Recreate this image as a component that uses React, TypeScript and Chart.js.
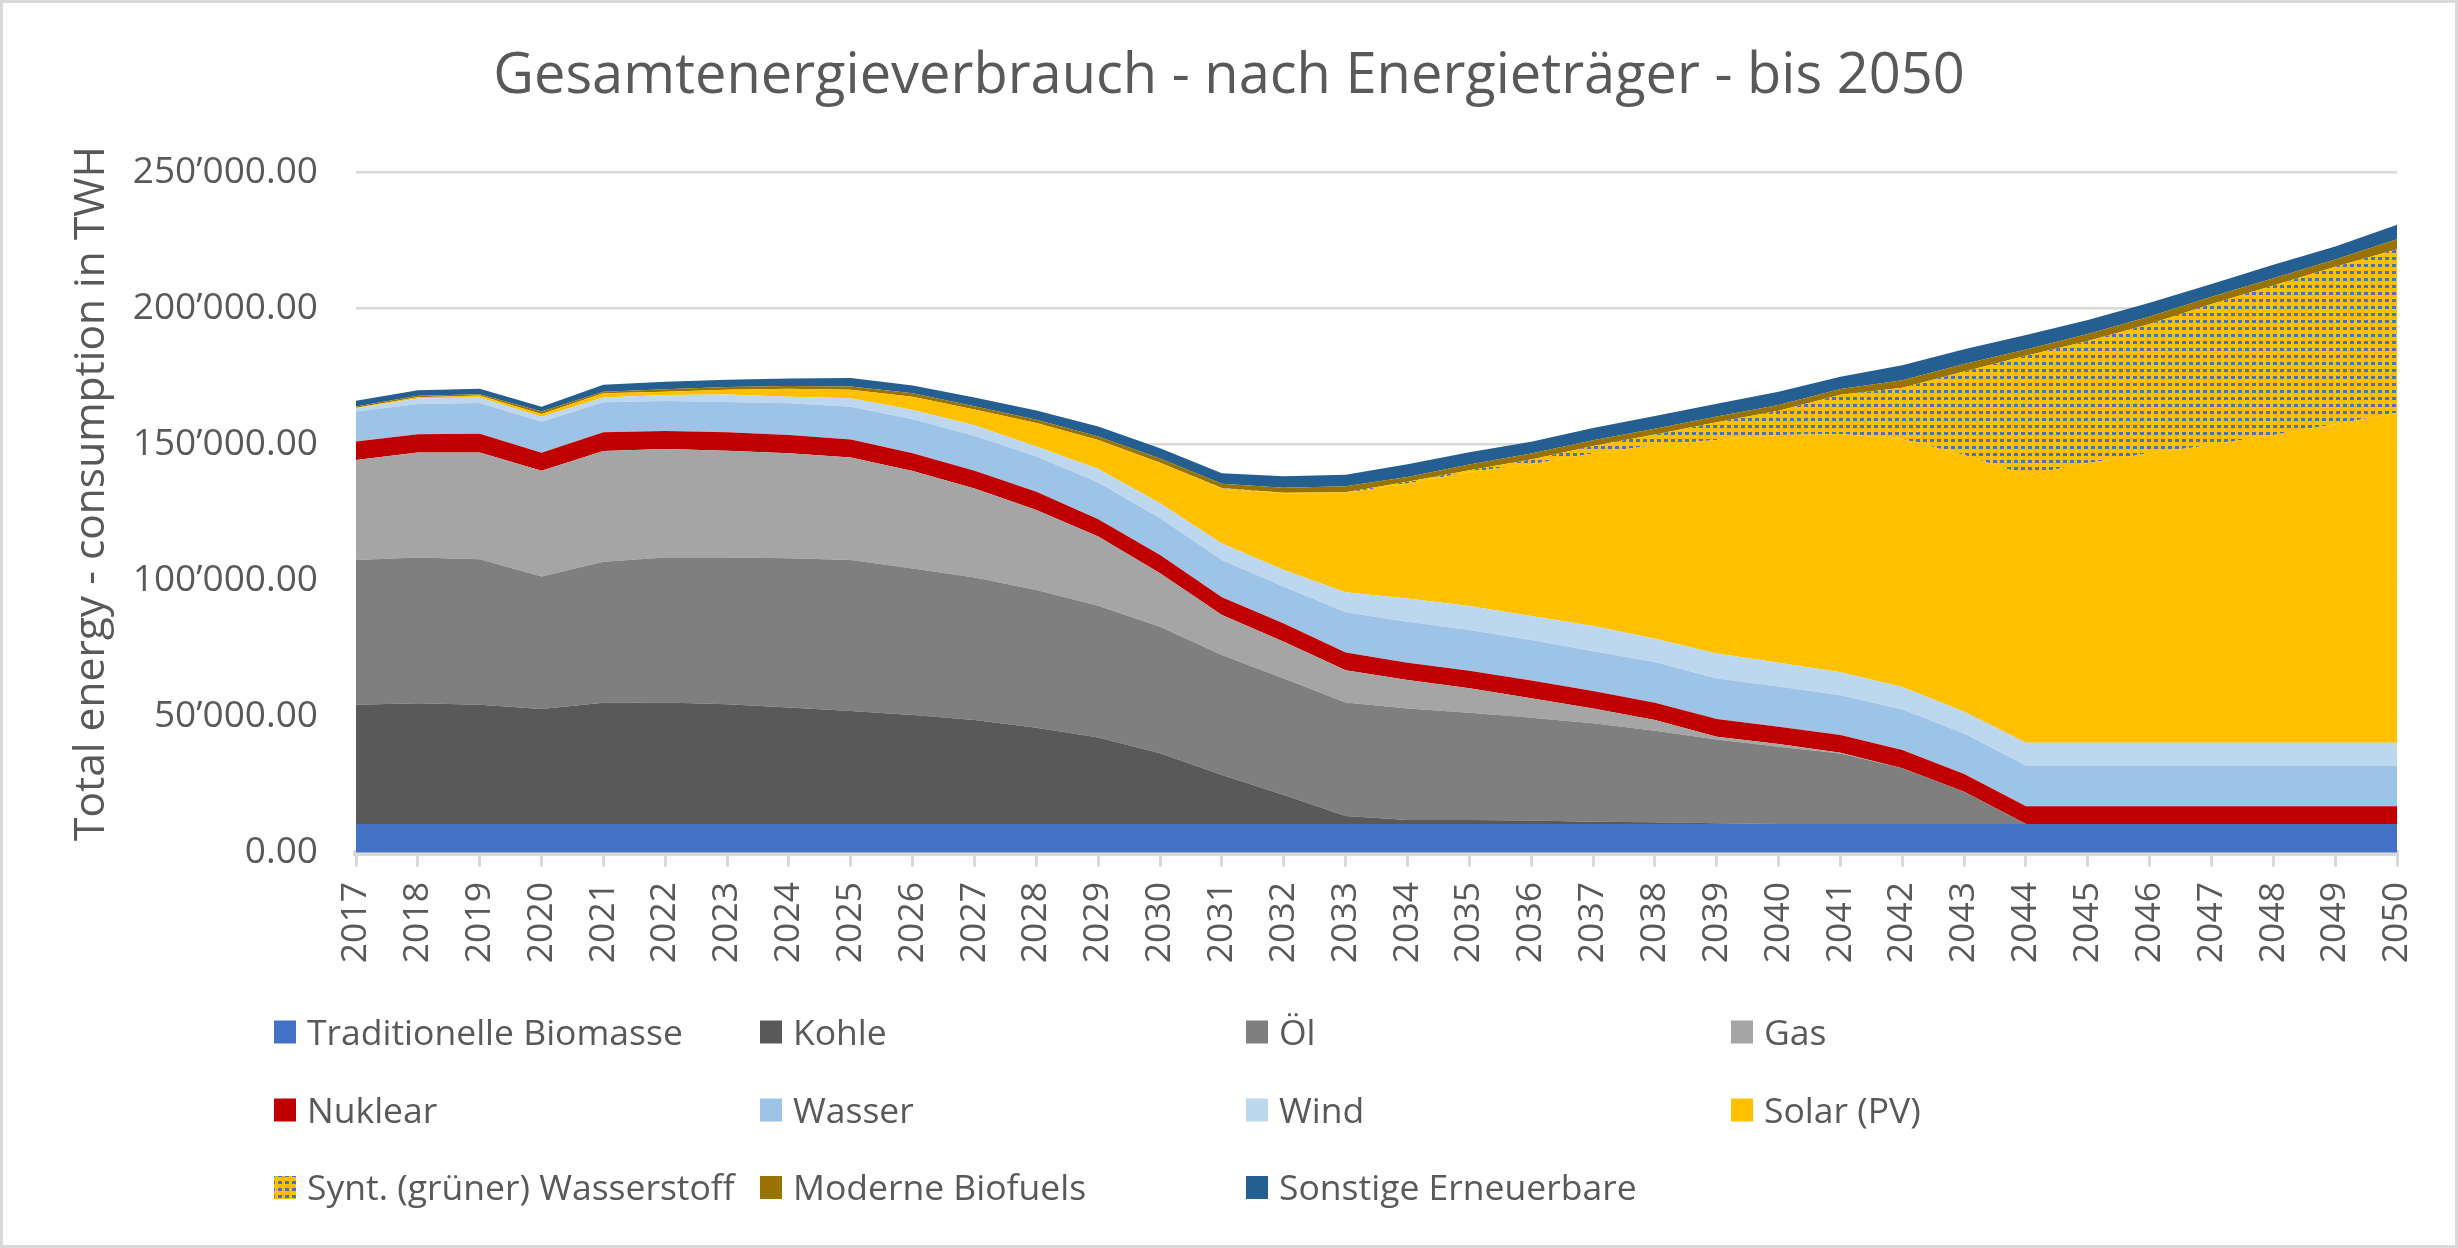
import { useEffect, useRef } from 'react';
import { Chart, registerables } from 'chart.js';

Chart.register(...registerables);

const years = [
  '2017', '2018', '2019', '2020', '2021', '2022', '2023', '2024', '2025', '2026', '2027', '2028',
  '2029', '2030', '2031', '2032', '2033', '2034', '2035', '2036', '2037', '2038', '2039', '2040',
  '2041', '2042', '2043', '2044', '2045', '2046', '2047', '2048', '2049', '2050',
];

// values in TWh
const biomasse = [
  10500, 10500, 10500, 10500, 10500, 10500, 10500, 10500, 10500, 10500, 10500, 10500,
  10500, 10500, 10500, 10500, 10500, 10500, 10500, 10500, 10500, 10500, 10500, 10500,
  10500, 10500, 10500, 10500, 10500, 10500, 10500, 10500, 10500, 10500,
];
const kohle = [
  43800, 44400, 43800, 42300, 44600, 44700, 44000, 42800, 41500, 40100, 38200, 35400,
  31800, 26000, 18000, 10700, 3000, 1500, 1500, 1300, 900, 700, 300, 0,
  0, 0, 0, 0, 0, 0, 0, 0, 0, 0,
];
const oel = [
  53200, 53500, 53500, 48600, 51800, 53200, 53900, 54800, 55500, 53800, 52400, 50600,
  48400, 46500, 44100, 42800, 41700, 41000, 39400, 37800, 36100, 33600, 30800, 28400,
  25900, 20500, 11900, 0, 0, 0, 0, 0, 0, 0,
];
const gas = [
  36700, 38600, 39200, 38900, 40600, 39900, 39200, 38600, 37600, 35800, 32700, 29400,
  25400, 19600, 14700, 13500, 11800, 10400, 9000, 7100, 5500, 3900, 1000, 1000,
  300, 0, 0, 0, 0, 0, 0, 0, 0, 0,
];
const nuklear = [
  6800, 6700, 6900, 6600, 6900, 6600, 6800, 6700, 6700, 6500, 6500, 6700,
  6400, 6700, 6500, 6700, 6500, 6400, 6400, 6500, 6400, 6400, 6500, 6400,
  6500, 6700, 6500, 6600, 6600, 6600, 6600, 6600, 6600, 6600,
];
const wasser = [
  11000, 11100, 11300, 11400, 11000, 11000, 11100, 11700, 12000, 12500, 12700, 12900,
  13500, 13500, 13700, 13500, 14800, 15000, 15000, 14900, 14600, 14900, 14900, 14700,
  14600, 14900, 14900, 14900, 14900, 14900, 14900, 14900, 14900, 14900,
];
const wind = [
  1200, 2000, 2000, 1800, 1800, 2200, 2800, 2400, 3100, 3400, 4000, 3700,
  4900, 5500, 6100, 6100, 7400, 8600, 8800, 8800, 9300, 8600, 9200, 8800,
  8500, 8300, 8000, 8400, 8400, 8400, 8400, 8400, 8400, 8400,
];
const solar = [
  200, 500, 700, 1000, 1500, 1200, 1700, 2900, 3100, 4900, 5800, 8600,
  10700, 14900, 20200, 28200, 36400, 42200, 49200, 55800, 63300, 71000, 78400, 83600,
  87500, 91000, 94300, 98300, 102600, 106300, 109300, 113000, 117000, 121200,
];
const wasserstoff = [
  0, 0, 0, 0, 0, 0, 0, 0, 0, 0, 0, 0,
  0, 0, 100, 200, 300, 600, 700, 1700, 2800, 4000, 6500, 8900,
  14400, 18900, 30600, 43800, 44900, 47500, 51800, 54900, 57800, 60000,
];
const biofuels = [
  500, 500, 500, 900, 600, 900, 1000, 1000, 1200, 1200, 1200, 1200,
  1300, 1600, 1600, 1800, 2200, 1800, 2100, 2200, 2100, 2100, 2100, 2100,
  2100, 2700, 2800, 2300, 2600, 2700, 2700, 2700, 2700, 3700,
];
const sonstige = [
  2100, 2000, 2000, 1800, 2600, 2800, 2700, 2800, 3100, 2900, 3200, 3400,
  3600, 3700, 3900, 4300, 4200, 4700, 4500, 4300, 4500, 4700, 4700, 4900,
  4500, 5500, 5400, 5300, 5100, 5100, 4700, 4900, 4700, 5300,
];

const TITLE = 'Gesamtenergieverbrauch - nach Energieträger - bis 2050';
const Y_TITLE = 'Total energy - consumption in TWH';
const FONT = '"Open Sans", "Noto Sans", sans-serif';
const TEXT = '#595959';
const GRID = '#D9D9D9';

const LEGEND_COLS = [271, 757, 1243, 1728];
const LEGEND_ROWS = [1029, 1107, 1184.5];

function formatTick(v: number) {
  const [int, dec] = v.toFixed(2).split('.');
  return int.replace(/\B(?=(\d{3})+(?!\d))/g, '\u2019') + '.' + dec;
}

function makeDots(): CanvasPattern | string {
  const tile = document.createElement('canvas');
  tile.width = 7;
  tile.height = 7;
  const t = tile.getContext('2d');
  if (!t) return '#FFC000';
  t.fillStyle = '#FFC000';
  t.fillRect(0, 0, 7, 7);
  t.fillStyle = '#4472C4';
  t.fillRect(2, 2, 4, 3);
  return t.createPattern(tile, 'repeat') || '#FFC000';
}

// legend as a 4-column grid + rotated y axis title
const gridLegend = {
  id: 'gridLegend',
  afterDraw(chart: any) {
    const ctx: CanvasRenderingContext2D = chart.ctx;
    const size = 35.5;
    ctx.save();
    ctx.font = `${size}px ${FONT}`;
    ctx.textBaseline = 'alphabetic';
    ctx.textAlign = 'left';
    chart.data.datasets.forEach((ds: any, i: number) => {
      const x = LEGEND_COLS[i % 4];
      const cy = LEGEND_ROWS[Math.floor(i / 4)];
      ctx.fillStyle = ds.backgroundColor;
      ctx.fillRect(x, cy - 11.5, 22, 23);
      ctx.fillStyle = TEXT;
      ctx.fillText(ds.label, x + 33, cy + size * 0.357);
    });

    ctx.translate(100.7, 490.5);
    ctx.rotate(-Math.PI / 2);
    ctx.font = `42.5px ${FONT}`;
    ctx.textAlign = 'center';
    ctx.fillStyle = TEXT;
    ctx.fillText(Y_TITLE, 0, 0);
    ctx.restore();
  },
};

export default function App() {
  const canvasRef = useRef<HTMLCanvasElement>(null);
  const chartRef = useRef<Chart | null>(null);

  useEffect(() => {
    document.body.style.margin = '0';
    document.documentElement.style.overflow = 'hidden';
    if (!canvasRef.current) return;
    if (chartRef.current) chartRef.current.destroy();

    const series = [
      { label: 'Traditionelle Biomasse', data: biomasse, color: '#4472C4' },
      { label: 'Kohle', data: kohle, color: '#595959' },
      { label: 'Öl', data: oel, color: '#7F7F7F' },
      { label: 'Gas', data: gas, color: '#A5A5A5' },
      { label: 'Nuklear', data: nuklear, color: '#C00000' },
      { label: 'Wasser', data: wasser, color: '#9DC3E6' },
      { label: 'Wind', data: wind, color: '#BDD7EE' },
      { label: 'Solar (PV)', data: solar, color: '#FFC000' },
      { label: 'Synt. (grüner) Wasserstoff', data: wasserstoff, color: makeDots() },
      { label: 'Moderne Biofuels', data: biofuels, color: '#997300' },
      { label: 'Sonstige Erneuerbare', data: sonstige, color: '#255E91' },
    ];

    chartRef.current = new Chart(canvasRef.current, {
      type: 'line',
      data: {
        labels: years,
        datasets: series.map((s, i) => ({
          label: s.label,
          data: s.data,
          backgroundColor: s.color as any,
          borderWidth: 0,
          pointRadius: 0,
          tension: 0,
          fill: i === 0 ? 'origin' : '-1',
        })),
      },
      options: {
        responsive: true,
        maintainAspectRatio: false,
        animation: false,
        events: [],
        layout: { padding: { left: 51, right: 51, top: 0, bottom: 242.3 } },
        plugins: {
          legend: { display: false },
          tooltip: { enabled: false },
          title: {
            display: true,
            text: TITLE,
            color: TEXT,
            font: { family: FONT, size: 56, weight: 'normal' },
            padding: { top: 40, bottom: 61.8 },
          },
        },
        scales: {
          x: {
            grid: { drawOnChartArea: false, drawTicks: true, tickLength: 14, color: GRID, lineWidth: 3 },
            border: { display: true, color: GRID, width: 6 },
            ticks: {
              autoSkip: false,
              minRotation: 90,
              maxRotation: 90,
              padding: 15.3,
              color: TEXT,
              font: { family: FONT, size: 35.5 },
            },
            afterFit: (s: any) => {
              s.height = 150;
            },
          },
          y: {
            stacked: true,
            min: 0,
            max: 250000,
            grid: { color: GRID, lineWidth: 2.5, drawTicks: false },
            border: { display: false },
            ticks: {
              stepSize: 50000,
              padding: 38,
              color: TEXT,
              font: { family: FONT, size: 37 },
              callback: (v: any) => formatTick(Number(v)),
            },
            afterFit: (s: any) => {
              s.width = 302;
            },
          },
        },
      },
      plugins: [gridLegend],
    });

    return () => {
      if (chartRef.current) {
        chartRef.current.destroy();
        chartRef.current = null;
      }
    };
  }, []);

  return (
    <div
      style={{
        width: 2458,
        height: 1248,
        boxSizing: 'border-box',
        border: `3px solid ${GRID}`,
        background: '#fff',
        overflow: 'hidden',
      }}
    >
      <div style={{ position: 'relative', width: 2452, height: 1242 }}>
        <canvas ref={canvasRef} />
      </div>
    </div>
  );
}
